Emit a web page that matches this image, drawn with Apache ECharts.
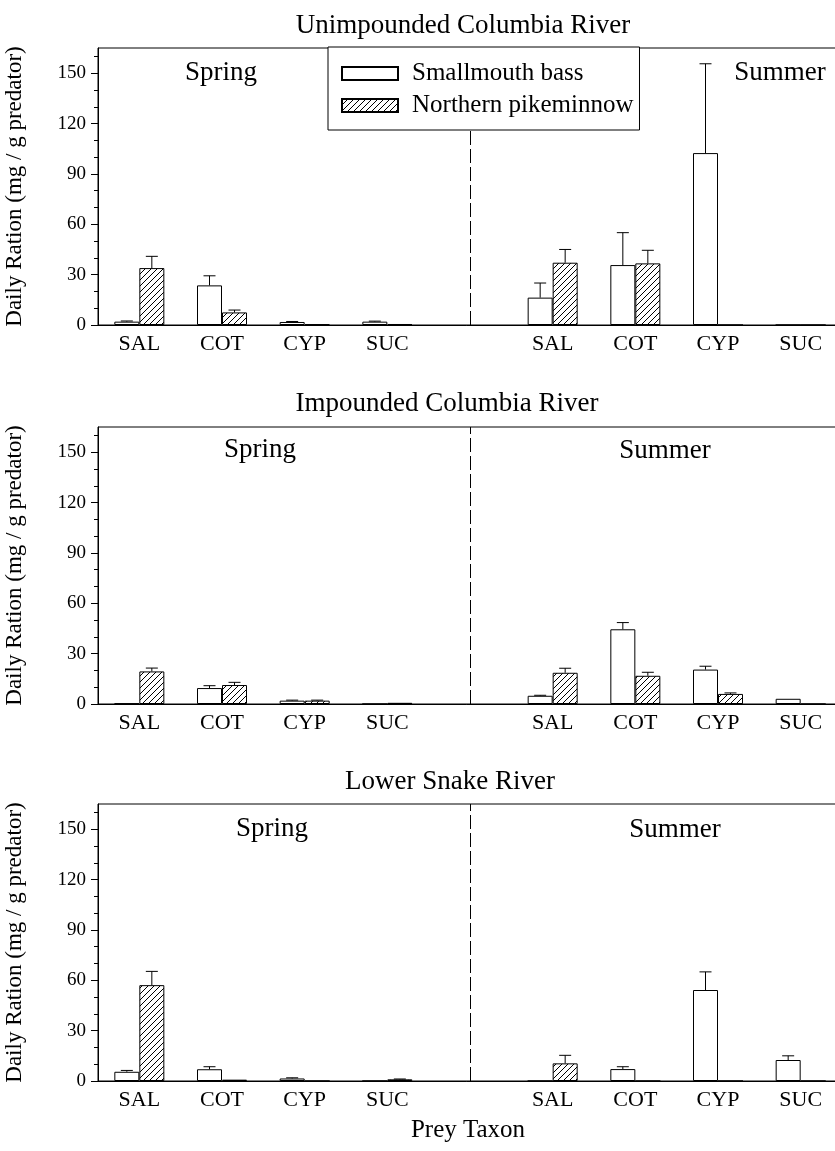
<!DOCTYPE html>
<html>
<head>
<meta charset="utf-8">
<script src="https://cdn.jsdelivr.net/npm/echarts@6/dist/echarts.min.js"></script>
<style>
html,body{margin:0;padding:0;background:#fff;}
#chart{width:835px;height:1151px;}
</style>
</head>
<body>
<div id="chart"></div>
<script>
// ---- data ----
const categories = ['SAL','COT','CYP','SUC','','SAL','COT','CYP','SUC'];
const yTicks = [0,30,60,90,120,150];
const yMinorTicks = [10,20,40,50,70,80,100,110,130,140,160];
const panelTitles = ['Unimpounded Columbia River','Impounded Columbia River','Lower Snake River'];
const seriesNames = ['Smallmouth bass','Northern pikeminnow'];
const seasonDividerIndex = 4;

// Unimpounded Columbia River
const unimpSmb    = [2, 23.6, 1.8, 2, null, 16.3, 35.7, 102.4, 0];
const unimpSmbErr = [0.4, 5.7, 0.3, 0.3, null, 8.7, 19.3, 53.2, 0];
const unimpNpm    = [33.9, 7.5, 0.4, 0.6, null, 37.1, 36.7, 0, 0];
const unimpNpmErr = [7, 1.4, 0, 0, null, 7.9, 7.8, 0, 0];
// Impounded Columbia River
const impSmb    = [0.3, 9.5, 2, 0, null, 4.9, 44.5, 20.5, 3.1];
const impSmbErr = [0, 1.4, 0.3, 0, null, 0.3, 4, 2, 0];
const impNpm    = [19.4, 11.3, 2, 0.7, null, 18.6, 16.8, 6, 0];
const impNpmErr = [2, 1.6, 0.3, 0, null, 2.7, 2.1, 0.6, 0];
// Lower Snake River
const snakeSmb    = [5.5, 7, 1.5, 0, null, 0, 7.1, 54.2, 12.5];
const snakeSmbErr = [0.8, 1.5, 0.4, 0, null, 0, 1.4, 10.8, 2.5];
const snakeNpm    = [57.1, 0.8, 0, 1, null, 10.5, 0, 0, 0];
const snakeNpmErr = [8.2, 0, 0, 0.2, null, 4.8, 0, 0, 0];

const panels = [
  {smb: unimpSmb, smbErr: unimpSmbErr, npm: unimpNpm, npmErr: unimpNpmErr},
  {smb: impSmb, smbErr: impSmbErr, npm: impNpm, npmErr: impNpmErr},
  {smb: snakeSmb, smbErr: snakeSmbErr, npm: snakeNpm, npmErr: snakeNpmErr}
];

// ---- layout / style ----
const FONT = 'Liberation Serif';
const gridTops = [48, 427, 804];
const gridH = 277, gridL = 98, gridW = 744;
const BAR_W = 25;

// hatch pattern
const hatch = document.createElement('canvas');
hatch.width = 6; hatch.height = 6;
(function(){
  const c = hatch.getContext('2d');
  c.fillStyle = '#fff'; c.fillRect(0,0,6,6);
  c.strokeStyle = '#000'; c.lineWidth = 1;
  c.beginPath();
  c.moveTo(-1,7); c.lineTo(7,-1);
  c.moveTo(-4,4); c.lineTo(4,-4);
  c.moveTo(2,10); c.lineTo(10,2);
  c.stroke();
})();
const hatchFill = {image: hatch, repeat: 'repeat'};

function errSeries(vals, errs, gi, offset, withDivider) {
  const data = [];
  vals.forEach((v, i) => { if (v != null && errs[i] > 0) data.push([i, v, errs[i]]); });
  const s = {
    type: 'custom', xAxisIndex: gi, yAxisIndex: gi*2, silent: true, z: 3,
    data: data,
    renderItem: function(params, api) {
      const x = api.value(0), v = api.value(1), e = api.value(2);
      const p0 = api.coord([x, v]);
      const p1 = api.coord([x, v + e]);
      const cx = p0[0] + offset;
      const style = {stroke: '#000', lineWidth: 1};
      return {type: 'group', children: [
        {type: 'line', shape: {x1: cx, y1: p0[1], x2: cx, y2: p1[1]}, style: style},
        {type: 'line', shape: {x1: cx - 6, y1: p1[1], x2: cx + 6, y2: p1[1]}, style: style}
      ]};
    }
  };
  if (withDivider) {
    s.markLine = {silent: true, symbol: 'none', animation: false, label: {show: false},
      lineStyle: {color: '#000', type: [14, 4], width: 1},
      data: [{xAxis: seasonDividerIndex}]};
  }
  return s;
}

const grid = [], xAxis = [], yAxis = [], series = [];
panels.forEach((p, gi) => {
  grid.push({left: gridL, top: gridTops[gi], width: gridW, height: gridH,
    outerBoundsMode: 'none', containLabel: false,
    show: true, borderColor: '#000', borderWidth: 1, backgroundColor: 'transparent'});
  xAxis.push({type: 'category', gridIndex: gi, data: categories,
    axisLine: {lineStyle: {color: '#000', width: 1}},
    axisTick: {alignWithLabel: true, interval: 0, length: 5, lineStyle: {color: '#000'}},
    axisLabel: {interval: 0, color: '#000', fontFamily: FONT, fontSize: 22, margin: 8},
    splitLine: {show: false}
  });
  yAxis.push({type: 'value', gridIndex: gi, min: 0, max: 165, interval: 30, position: 'left',
    name: 'Daily Ration (mg / g predator)', nameLocation: 'middle', nameGap: 72, nameRotate: 90,
    nameTextStyle: {color: '#000', fontFamily: FONT, fontSize: 23},
    axisLine: {show: true, lineStyle: {color: '#000', width: 1}},
    axisTick: {show: true, length: 7, customValues: yTicks, lineStyle: {color: '#000'}},
    axisLabel: {color: '#000', fontFamily: FONT, fontSize: 19, margin: 12, customValues: yTicks},
    splitLine: {show: false}
  });
  yAxis.push({type: 'value', gridIndex: gi, min: 0, max: 165, interval: 30, position: 'left', offset: 0,
    axisLine: {show: false},
    axisTick: {show: true, length: 4, customValues: yMinorTicks, lineStyle: {color: '#000'}},
    axisLabel: {show: false},
    splitLine: {show: false}
  });
  series.push({
    name: seriesNames[0], type: 'bar', xAxisIndex: gi, yAxisIndex: gi*2,
    data: p.smb, barWidth: BAR_W, barGap: '0%',
    itemStyle: {color: '#fff', borderColor: '#000', borderWidth: 1}
  });
  series.push({
    name: seriesNames[1], type: 'bar', xAxisIndex: gi, yAxisIndex: gi*2,
    data: p.npm, barWidth: BAR_W, barGap: '0%',
    itemStyle: {color: hatchFill, borderColor: '#000', borderWidth: 1}
  });
  series.push(errSeries(p.smb, p.smbErr, gi, -BAR_W/2, true));
  series.push(errSeries(p.npm, p.npmErr, gi, BAR_W/2, false));
});

function txt(text, x, y, size) {
  return {type: 'text', x: x, y: y, z: 10, silent: true,
    style: {text: text, align: 'center', verticalAlign: 'middle', textAlign: 'center', textVerticalAlign: 'middle',
      font: size + 'px "' + FONT + '"', fill: '#000'}};
}
const graphic = [
  txt(panelTitles[0], 463, 26, 27),
  txt(panelTitles[1], 447, 404, 27),
  txt(panelTitles[2], 450, 782, 27),
  txt('Spring', 221, 73, 27), txt('Summer', 780, 73, 27),
  txt('Spring', 260, 450, 27), txt('Summer', 665, 451, 27),
  txt('Spring', 272, 829, 27), txt('Summer', 675, 830, 27),
  txt('Prey Taxon', 468, 1130, 25)
];

const option = {
  animation: false,
  backgroundColor: '#fff',
  grid: grid, xAxis: xAxis, yAxis: yAxis, series: series,
  graphic: graphic,
  legend: {
    data: seriesNames, orient: 'vertical', left: 328, top: 47, z: 6,
    padding: [14, 6, 12, 13], itemGap: 7, itemWidth: 56, itemHeight: 13,
    backgroundColor: '#fff', borderColor: '#000', borderWidth: 1, borderRadius: 0,
    icon: 'rect', selectedMode: false,
    textStyle: {color: '#000', fontFamily: FONT, fontSize: 25, lineHeight: 25, padding: [0,0,0,9]}
  }
};

const chart = echarts.init(document.getElementById('chart'), null, {renderer: 'canvas'});
chart.setOption(option);
</script>
</body>
</html>
